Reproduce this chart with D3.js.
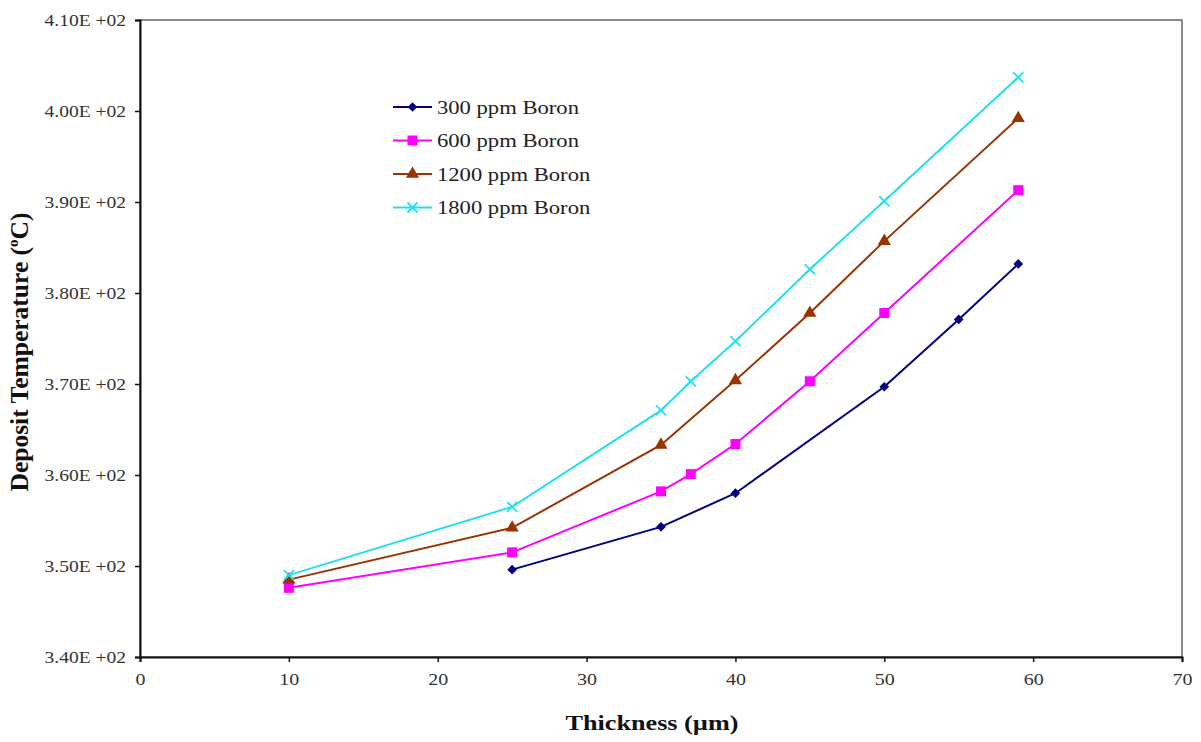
<!DOCTYPE html>
<html>
<head>
<meta charset="utf-8">
<script src="https://cdn.jsdelivr.net/npm/d3@7"></script>
<style>
  html, body { margin: 0; padding: 0; background: #fff; }
  svg { display: block; }
</style>
</head>
<body>
<svg id="chart" width="1201" height="742"></svg>
<script>
// ---- Data ----
const seriesNames = ["300 ppm Boron", "600 ppm Boron", "1200 ppm Boron", "1800 ppm Boron"];
const x300 = [25, 35, 40, 50, 55, 59];
const y300 = [349.6, 354.3, 358.0, 369.7, 377.1, 383.2];
const x600 = [10, 25, 35, 37, 40, 45, 50, 59];
const y600 = [347.6, 351.5, 358.2, 360.1, 363.4, 370.3, 377.8, 391.3];
const x1200 = [10, 25, 35, 40, 45, 50, 59];
const y1200 = [348.5, 354.2, 363.3, 370.4, 377.8, 385.7, 399.2];
const x1800 = [10, 25, 35, 37, 40, 45, 50, 59];
const y1800 = [349.0, 356.5, 367.1, 370.3, 374.7, 382.6, 390.1, 403.7];
const xTicks = [0, 10, 20, 30, 40, 50, 60, 70];
const yTicks = [340, 350, 360, 370, 380, 390, 400, 410];
const yTickLabels = ["3.40E +02", "3.50E +02", "3.60E +02", "3.70E +02", "3.80E +02", "3.90E +02", "4.00E +02", "4.10E +02"];

const colors = ["#000080", "#FF00FF", "#993300", "#22E0EE"];
const symbols = ["diamond", "square", "triangle", "x"];

const series = [
  { name: seriesNames[0], xs: x300, ys: y300 },
  { name: seriesNames[1], xs: x600, ys: y600 },
  { name: seriesNames[2], xs: x1200, ys: y1200 },
  { name: seriesNames[3], xs: x1800, ys: y1800 }
].map((s, i) => ({ ...s, color: colors[i], symbol: symbols[i],
  pts: s.xs.map((x, j) => ({ x, y: s.ys[j] })) }));

// ---- Layout ----
const svg = d3.select("#chart");
const L = 140, R = 1182, T = 20, B = 657;
const font = "'Liberation Serif', 'Times New Roman', serif";

function stretch(sel, factor) {
  sel.each(function () {
    const w = this.getComputedTextLength();
    d3.select(this).attr("textLength", w * factor).attr("lengthAdjust", "spacingAndGlyphs");
  });
}

const x = d3.scaleLinear().domain([0, 70]).range([L, R]);
const y = d3.scaleLinear().domain([340, 410]).range([B, T]);

// frame
svg.append("rect").attr("x", L).attr("y", T).attr("width", R - L).attr("height", B - T)
  .attr("fill", "#fff").attr("stroke", "#666").attr("stroke-width", 1.5);

// axes
const xAxis = d3.axisBottom(x).tickValues(xTicks).tickSize(5).tickPadding(12).tickFormat(d3.format("d"));
const gx = svg.append("g").attr("transform", `translate(0,${B})`).call(xAxis);
const yAxis = d3.axisLeft(y).tickValues(yTicks).tickSize(5).tickPadding(9)
  .tickFormat((d, i) => yTickLabels[i]);
const gy = svg.append("g").attr("transform", `translate(${L},0)`).call(yAxis);
[gx, gy].forEach(g => {
  g.select(".domain").attr("stroke", "#111").attr("stroke-width", 2);
  g.selectAll(".tick line").attr("stroke", "#111").attr("stroke-width", 1.5);
  g.selectAll(".tick text").attr("font-family", font).attr("font-size", 16).attr("fill", "#333");
});
stretch(gx.selectAll(".tick text"), 1.25);
stretch(gy.selectAll(".tick text"), 1.22);

// lines
const line = d3.line().x(d => x(d.x)).y(d => y(d.y));
series.forEach(s => {
  svg.append("path").datum(s.pts).attr("d", line)
    .attr("fill", "none").attr("stroke", s.color).attr("stroke-width", 2);
});

// markers
function drawMarker(g, type, cx, cy, color) {
  if (type === "diamond") {
    g.append("path").attr("d", d3.symbol().type(d3.symbolDiamond2).size(60)())
      .attr("transform", `translate(${cx},${cy})`).attr("fill", color);
  } else if (type === "square") {
    g.append("rect").attr("x", cx - 5).attr("y", cy - 5).attr("width", 10).attr("height", 10).attr("fill", color);
  } else if (type === "triangle") {
    g.append("path").attr("d", d3.symbol().type(d3.symbolTriangle).size(75)())
      .attr("transform", `translate(${cx},${cy})`).attr("fill", color);
  } else {
    g.append("path").attr("d", `M${cx-5},${cy-5}L${cx+5},${cy+5}M${cx-5},${cy+5}L${cx+5},${cy-5}`)
      .attr("stroke", color).attr("stroke-width", 1.8).attr("fill", "none");
  }
}
series.forEach(s => {
  const g = svg.append("g");
  s.pts.forEach(p => drawMarker(g, s.symbol, x(p.x), y(p.y), s.color));
});

// legend
const legend = svg.append("g");
series.forEach((s, i) => {
  const ly = 107 + i * 33.5;
  legend.append("line").attr("x1", 393).attr("x2", 432).attr("y1", ly).attr("y2", ly)
    .attr("stroke", s.color).attr("stroke-width", 2);
  drawMarker(legend, s.symbol, 412.5, ly, s.color);
  const t = legend.append("text").attr("x", 437).attr("y", ly + 6.5).text(s.name)
    .attr("font-family", font).attr("font-size", 19).attr("fill", "#222");
  stretch(t, 1.19);
});

// axis titles
const xt = svg.append("text").attr("x", 652).attr("y", 730).attr("text-anchor", "middle")
  .attr("font-family", font).attr("font-size", 22).attr("font-weight", "bold").attr("fill", "#111")
  .text("Thickness (µm)");
stretch(xt, 1.19);
const yt = svg.append("text").attr("transform", `translate(28,352) rotate(-90)`)
  .attr("text-anchor", "middle").attr("font-family", font).attr("font-size", 25.5)
  .attr("font-weight", "bold").attr("fill", "#111");
yt.append("tspan").text("Deposit Temperature (");
yt.append("tspan").text("o").attr("font-size", 15).attr("dy", -10);
yt.append("tspan").text("C)").attr("dy", 10);
</script>
</body>
</html>
